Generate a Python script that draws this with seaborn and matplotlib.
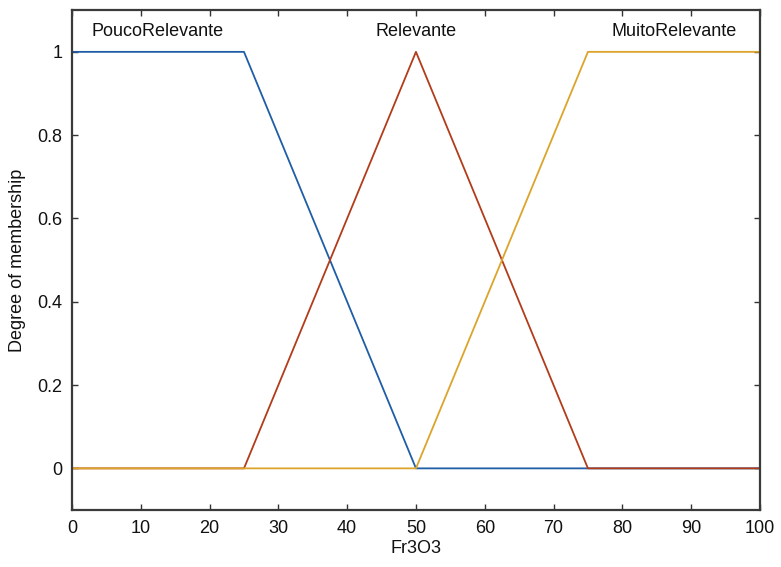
import matplotlib
matplotlib.use("Agg")
import matplotlib.pyplot as plt
import matplotlib.ticker as mticker
import pandas as pd
import seaborn as sns

# Membership functions for the Fr3O3 input (breakpoints of each set)
mf_names = ["PoucoRelevante", "Relevante", "MuitoRelevante"]
pouco_x = [0, 25, 50, 100]
pouco_y = [1, 1, 0, 0]
relevante_x = [0, 25, 50, 75, 100]
relevante_y = [0, 0, 1, 0, 0]
muito_x = [0, 50, 75, 100]
muito_y = [0, 0, 1, 1]
label_x = [12.5, 50, 87.5]
x_ticks = [0, 10, 20, 30, 40, 50, 60, 70, 80, 90, 100]
y_ticks = [0, 0.2, 0.4, 0.6, 0.8, 1]

sns.set_theme(style="white")
plt.rcParams["font.family"] = ["Liberation Sans", "DejaVu Sans"]

colors = ["#1f5ea6", "#b23c1a", "#dca42a"]
fs = 13

frames = []
for name, xs, ys in zip(mf_names, [pouco_x, relevante_x, muito_x],
                        [pouco_y, relevante_y, muito_y]):
    frames.append(pd.DataFrame({"x": xs, "mu": ys, "mf": name}))
df = pd.concat(frames, ignore_index=True)

fig = plt.figure(figsize=(7.81, 5.67), dpi=100)
ax = fig.add_axes([0.0922, 0.1005, 0.8808, 0.8815])

for name, col in zip(mf_names, colors):
    sub = df[df["mf"] == name]
    sns.lineplot(data=sub, x="x", y="mu", ax=ax, color=col, linewidth=1.3,
                 sort=False, estimator=None, legend=False)

for name, lx in zip(mf_names, label_x):
    ax.text(lx, 1.05, name, ha="center", va="center", fontsize=fs,
            color="#111111")

ax.set_xlim(0, 100)
ax.set_ylim(-0.1, 1.1)
ax.set_xticks(x_ticks)
ax.set_yticks(y_ticks)
ax.yaxis.set_major_formatter(mticker.FormatStrFormatter("%g"))
ax.tick_params(direction="in", length=4, width=1, top=True, right=True,
               bottom=True, left=True, labelsize=fs, colors="#333333",
               labelcolor="#111111", pad=7)
for sp in ax.spines.values():
    sp.set_visible(True)
    sp.set_color("#3a3a3a")
    sp.set_linewidth(1.6)

ax.set_xlabel("Fr3O3", fontsize=fs, color="#111111", labelpad=2)
ax.set_ylabel("Degree of membership", fontsize=fs, color="#111111",
              labelpad=8)

fig.savefig("out.png", dpi=100)
